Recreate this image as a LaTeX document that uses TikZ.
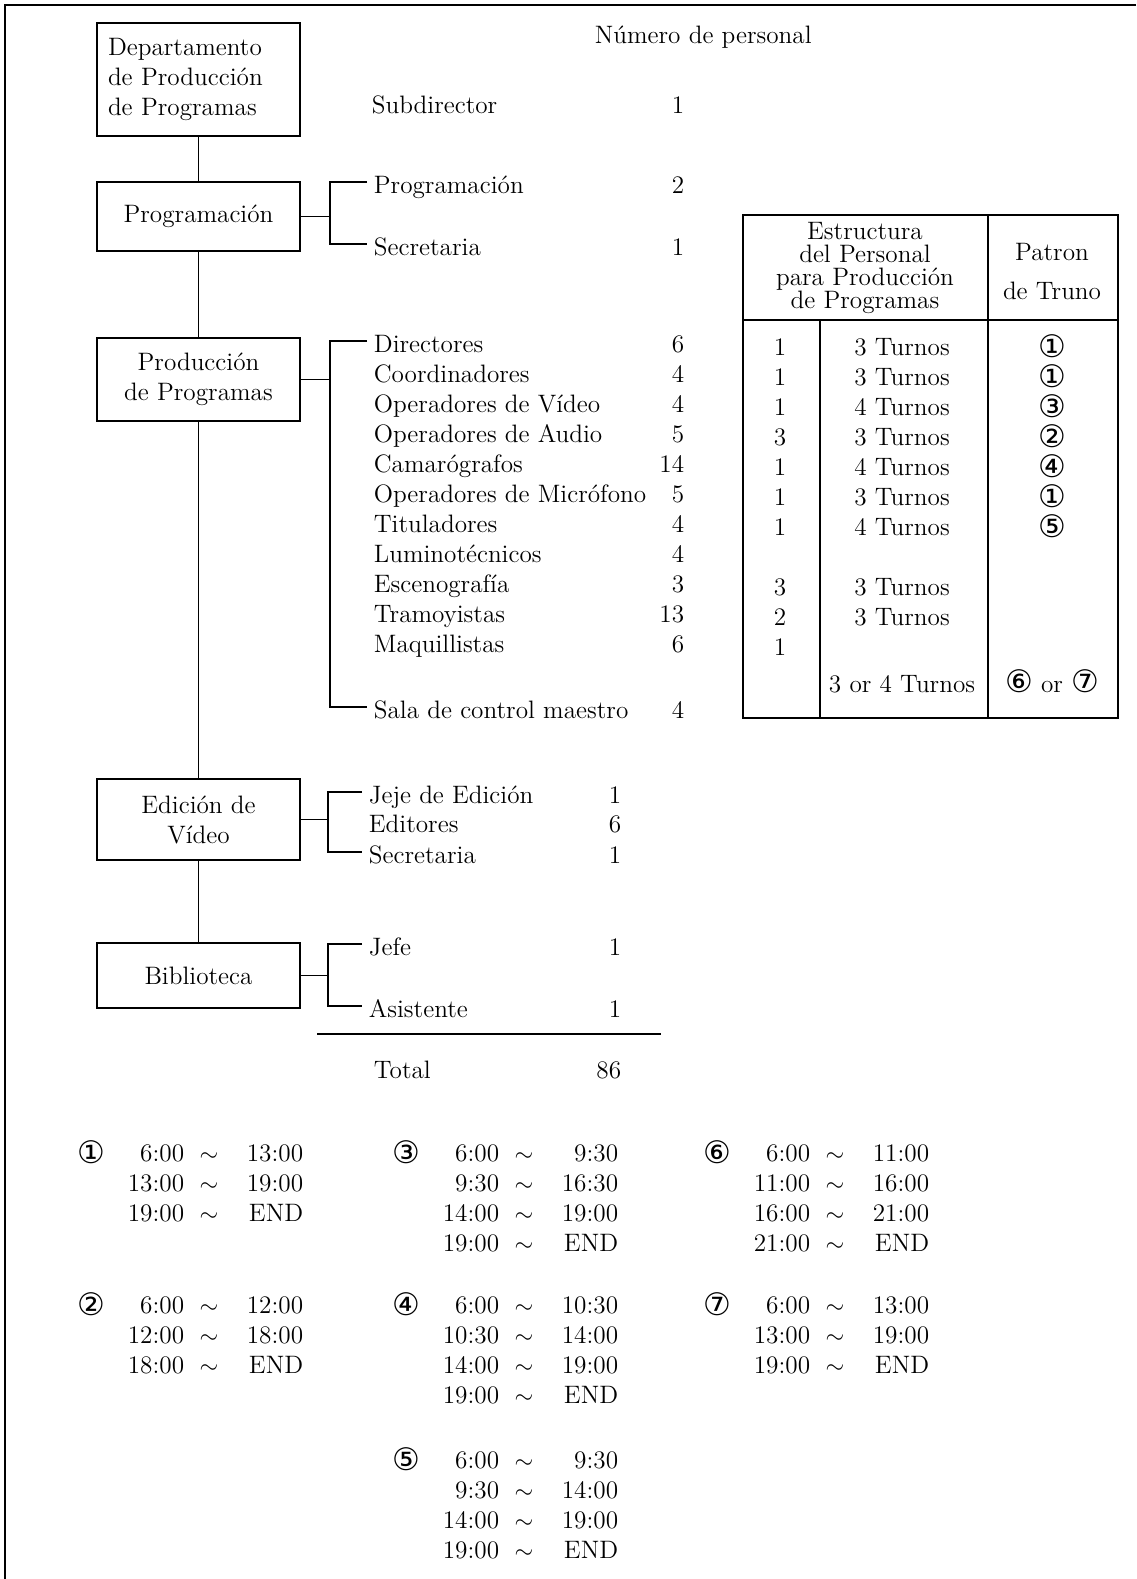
\documentclass[tikz,border=0pt]{standalone}
\usepackage{fontspec}
\newfontfamily\circfont{DejaVu Sans}
\newcommand{\cn}[1]{{\circfont\fontsize{15.5}{15}\selectfont #1}}

\begin{document}
\begin{tikzpicture}[x=0.5pt,y=-0.5pt,line width=0.9pt,
  every node/.style={font=\fontsize{12.6}{15}\selectfont},
  unit/.style={draw,line width=0.9pt,inner sep=0pt,minimum width=101.5pt,align=center},
  item/.style={anchor=west,inner sep=3pt,text height=11pt,text depth=0pt},
  qty/.style={anchor=base east,inner sep=0pt},
  cell/.style={anchor=base,inner sep=0pt},
  circ/.style={anchor=base,inner sep=0pt,yshift=-1.2pt},
  tm/.style={anchor=base east,inner sep=0pt}]

\useasboundingbox (0,0) rectangle (1136,1579);
\draw (1136,5) -- (5,5) -- (5,1579);

% organisation boxes
\node[unit,minimum height=56.5pt,align=left,text width=90.5pt] (dpp) at (198.5,79.5) {Departamento\\de Producción\\de Programas};
\node[unit,minimum height=34.5pt] (prg) at (198.5,216.5) {Programación};
\node[unit,minimum height=41.5pt] (ppr) at (198.5,379.5) {Producción\\de Programas};
\node[unit,minimum height=40.5pt] (edv) at (198.5,819.5) {Edición de\\Vídeo};
\node[unit,minimum height=32.5pt] (bib) at (198.5,975.5) {Biblioteca};

\draw (dpp) -- (prg);
\draw (prg) -- (ppr);
\draw (ppr) -- (edv);
\draw (edv) -- (bib);

% staff numbers
\node[anchor=base west,inner sep=0pt] (num) at (594,43) {Número de personal};
\node[anchor=base west,inner sep=0pt] (sub) at (371,113) {Subdirector};
\node[qty] (subn) at (685,113) {1};

\node[item] (pa) at (367,182) {Programación};
\node[item] (pb) at (367,244) {Secretaria};
\node[qty] (pan) at (685,193) {2};
\node[qty] (pbn) at (685,255) {1};
\coordinate (b2) at (330,216.5);
\draw (prg.east) -- (b2);
\draw (pa.west) -| (b2) |- (pb.west);

\foreach \t/\n [count=\i] in {Directores/6,Coordinadores/4,Operadores de Vídeo/4,
  Operadores de Audio/5,Camarógrafos/14,Operadores de Micrófono/5,Tituladores/4,
  Luminotécnicos/4,Escenografía/3,Tramoyistas/13,Maquillistas/6}{
  \node[item] (d\i) at (367,{341+30*(\i-1)}) {\t};
  \node[qty] (dn\i) at (685,{352+30*(\i-1)}) {\n};
}
\node[item] (sala) at (367,707) {Sala de control maestro};
\node[qty] (salan) at (685,718) {4};
\coordinate (b3) at (330,379.5);
\draw (ppr.east) -- (b3);
\draw (d1.west) -| (b3) |- (sala.west);

\node[item] (ea) at (362,792) {Jeje de Edición};
\node[item] (eb) at (362,821) {Editores};
\node[item] (ec) at (362,852) {Secretaria};
\node[qty] (ean) at (622,803) {1};
\node[qty] (ebn) at (622,832) {6};
\node[qty] (ecn) at (622,863) {1};
\coordinate (b4) at (328,819.5);
\draw (edv.east) -- (b4);
\draw (ea.west) -| (b4) |- (ec.west);

\node[item] (la) at (362,944) {Jefe};
\node[item] (lb) at (362,1006) {Asistente};
\node[qty] (lan) at (622,955) {1};
\node[qty] (lbn) at (622,1017) {1};
\coordinate (b5) at (328,975.5);
\draw (bib.east) -- (b5);
\draw (la.west) -| (b5) |- (lb.west);

\draw (317,1034) -- (661,1034);
\node[anchor=base west,inner sep=0pt] (tot) at (373,1078) {Total};
\node[qty] (totn) at (622,1078) {86};

% shift table
\draw (743,215) rectangle (1118,718);
\draw (988,215) -- (988,718);
\draw (743,320) -- (1118,320);
\draw (820,320) -- (820,718);
\node[align=center,inner sep=0pt,font=\fontsize{12.6}{11.5}\selectfont] (th1) at (865,268)
  {Estructura\\del Personal\\para Producción\\de Programas};
\node[align=center,inner sep=0pt,font=\fontsize{12.6}{19.5}\selectfont] (th2) at (1052,272)
  {Patron\\de Truno};
\foreach \y/\a/\b/\c in {355/1/3 Turnos/①,385/1/3 Turnos/①,415/1/4 Turnos/③,
  445/3/3 Turnos/②,475/1/4 Turnos/④,505/1/3 Turnos/①,535/1/4 Turnos/⑤,
  595/3/3 Turnos/,625/2/3 Turnos/,655/1//}{
  \node[cell] (ra\y) at (780,\y) {\a};
  \node[cell] (rb\y) at (902,\y) {\b};
  \node[circ] (rc\y) at (1052,\y) {\cn{\c}};
}
\node[cell] (rb692) at (902,692) {3 or 4 Turnos};
\node[cell] (rc692) at (1052,692) {\cn{⑥} or \cn{⑦}};

% shift patterns
\foreach \g/\k/\cx/\y/\rows in {
  1/①/91/1161/{6:00/13:00,13:00/19:00,19:00/END},
  2/②/91/1313/{6:00/12:00,12:00/18:00,18:00/END},
  3/③/406/1161/{6:00/9:30,9:30/16:30,14:00/19:00,19:00/END},
  4/④/406/1313/{6:00/10:30,10:30/14:00,14:00/19:00,19:00/END},
  5/⑤/406/1468/{6:00/9:30,9:30/14:00,14:00/19:00,19:00/END},
  6/⑥/717/1161/{6:00/11:00,11:00/16:00,16:00/21:00,21:00/END},
  7/⑦/717/1313/{6:00/13:00,13:00/19:00,19:00/END}}{
  \node[circ] (c\g) at (\cx,\y) {\cn{\k}};
  \foreach \s/\e [count=\i] in \rows {
    \node[tm] (s\g-\i) at ({\cx+94},{\y+30*(\i-1)}) {\s};
    \node[cell] (w\g-\i) at ({\cx+118},{\y+30*(\i-1)}) {$\sim$};
    \node[tm] (e\g-\i) at ({\cx+213},{\y+30*(\i-1)}) {\e};
  }
}
\end{tikzpicture}
\end{document}
